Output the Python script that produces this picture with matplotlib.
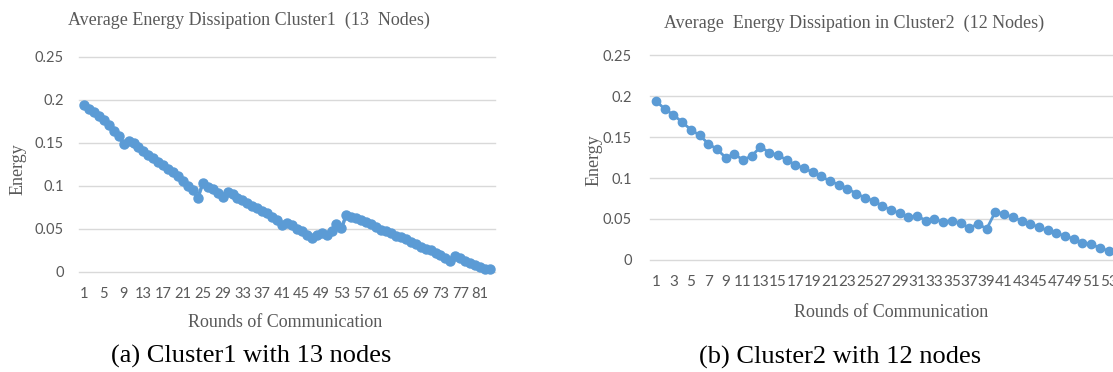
import matplotlib
matplotlib.use('Agg')
import matplotlib.pyplot as plt

# Cluster 1 (13 nodes): average energy per round
rounds_c1 = list(range(1, 84))
energy_c1 = [0.194, 0.190, 0.186, 0.181, 0.177, 0.171, 0.164, 0.158, 0.149, 0.152,
             0.150, 0.145, 0.140, 0.136, 0.132, 0.128, 0.124, 0.120, 0.116, 0.112,
             0.106, 0.100, 0.095, 0.086, 0.103, 0.099, 0.096, 0.092, 0.087, 0.093,
             0.090, 0.086, 0.083, 0.080, 0.077, 0.074, 0.071, 0.068, 0.064, 0.060,
             0.054, 0.057, 0.054, 0.050, 0.047, 0.043, 0.039, 0.043, 0.045, 0.043,
             0.047, 0.055, 0.051, 0.066, 0.064, 0.062, 0.060, 0.058, 0.055, 0.052,
             0.049, 0.047, 0.045, 0.042, 0.040, 0.038, 0.035, 0.032, 0.029, 0.027,
             0.025, 0.022, 0.019, 0.016, 0.013, 0.018, 0.016, 0.013, 0.010, 0.008,
             0.006, 0.003, 0.003]

# Cluster 2 (12 nodes)
rounds_c2 = list(range(1, 54))
energy_c2 = [0.194, 0.184, 0.177, 0.168, 0.159, 0.152, 0.142, 0.135, 0.125, 0.129,
             0.122, 0.127, 0.138, 0.131, 0.128, 0.122, 0.116, 0.112, 0.107, 0.102,
             0.096, 0.092, 0.087, 0.081, 0.076, 0.072, 0.066, 0.061, 0.057, 0.052,
             0.054, 0.048, 0.050, 0.046, 0.048, 0.045, 0.039, 0.044, 0.038, 0.059,
             0.056, 0.052, 0.048, 0.044, 0.040, 0.036, 0.033, 0.029, 0.026, 0.021,
             0.019, 0.015, 0.011]

yticks = [0, 0.05, 0.1, 0.15, 0.2, 0.25]
ytick_labels = ['0', '0.05', '0.1', '0.15', '0.2', '0.25']

BLUE = '#5B9BD5'
GREY = '#595959'
SERIF = 'Liberation Serif'
SANS = 'Lato'

fig = plt.figure(figsize=(11.13, 3.72), dpi=100)


def style_axes(ax, xticks, xpad, ypad, xsize=10.5):
    ax.set_ylim(0, 0.25)
    ax.set_yticks(yticks)
    ax.set_yticklabels(ytick_labels)
    ax.set_xticks(xticks)
    ax.set_xticklabels([str(t) for t in xticks])
    for s in ax.spines.values():
        s.set_visible(False)
    ax.tick_params(length=0, labelsize=10.5, labelcolor=GREY)
    ax.tick_params(axis='x', pad=xpad, labelsize=xsize)
    ax.tick_params(axis='y', pad=ypad)
    for lab in ax.get_xticklabels() + ax.get_yticklabels():
        lab.set_family(SANS)
    ax.yaxis.grid(True, color='#D9D9D9', linewidth=1)
    for gl in ax.get_ygridlines():
        gl.set_clip_on(False)
    ax.set_axisbelow(True)


# left panel
ax1 = fig.add_axes([0.0710, 0.2696, 0.3738, 0.5772])
ax1.plot(rounds_c1, energy_c1, color=BLUE, linewidth=2.5, marker='o',
         markersize=6.5, clip_on=False)
ax1.set_xlim(-0.01, 84.03)
style_axes(ax1, list(range(1, 84, 4)), 11, 11)

# right panel (runs past the right edge of the figure, like the original)
ax2 = fig.add_axes([0.5840, 0.3011, 0.4276, 0.5510])
ax2.plot(rounds_c2, energy_c2, color=BLUE, linewidth=2, marker='o',
         markersize=6)
ax2.set_xlim(0.3, 55.0)
style_axes(ax2, list(range(1, 54, 2)), 11, 13, xsize=11)

# titles, axis titles and captions
fig.text(0.224, 0.946, 'Average Energy Dissipation Cluster1  (13  Nodes)',
         ha='center', va='center', family=SERIF, fontsize=13, color=GREY)
fig.text(0.767, 0.936, 'Average  Energy Dissipation in Cluster2  (12 Nodes)',
         ha='center', va='center', family=SERIF, fontsize=13, color=GREY)

fig.text(0.0162, 0.545, 'Energy', rotation=90, ha='center', va='center',
         family=SERIF, fontsize=13, color=GREY)
fig.text(0.534, 0.570, 'Energy', rotation=90, ha='center', va='center',
         family=SERIF, fontsize=13, color=GREY)

fig.text(0.256, 0.134, 'Rounds of Communication', ha='center', va='center',
         family=SERIF, fontsize=13, color=GREY)
fig.text(0.801, 0.160, 'Rounds of Communication', ha='center', va='center',
         family=SERIF, fontsize=13, color=GREY)

fig.text(0.226, 0.041, '(a) Cluster1 with 13 nodes', ha='center', va='center',
         family=SERIF, fontsize=19, color='black')
fig.text(0.755, 0.040, '(b) Cluster2 with 12 nodes', ha='center', va='center',
         family=SERIF, fontsize=19, color='black')

fig.savefig('out.png', dpi=100)
